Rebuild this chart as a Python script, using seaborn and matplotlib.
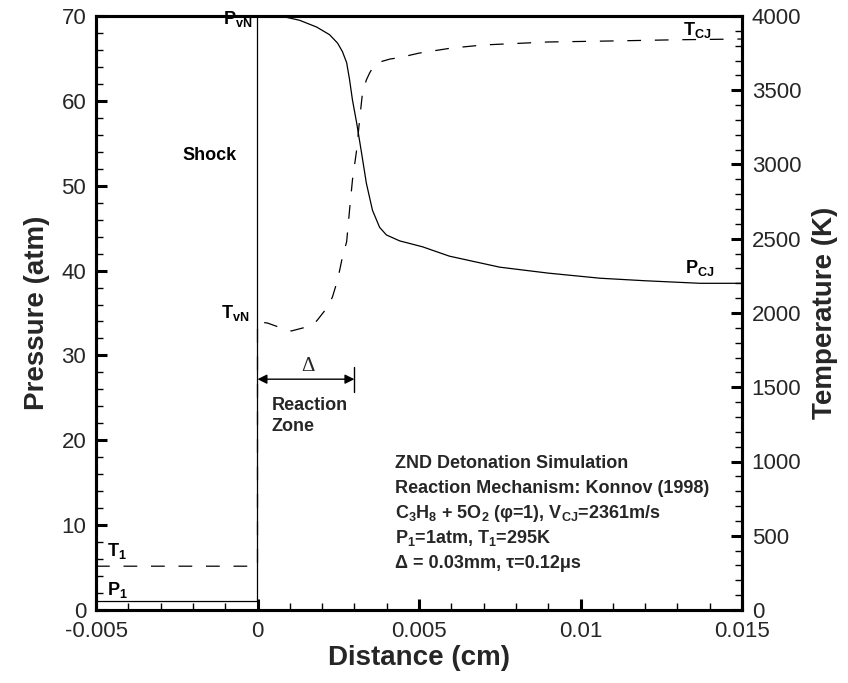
import matplotlib
matplotlib.use("Agg")
import matplotlib.pyplot as plt
from matplotlib.ticker import MultipleLocator
import seaborn as sns

# Pressure profile through the detonation (cm, atm)
p_dist = [-0.005, 0.0, 0.0, 0.00077, 0.0013, 0.00183, 0.00223, 0.00248,
          0.00263, 0.00276, 0.00285, 0.00294, 0.00307, 0.00322, 0.00337,
          0.00356, 0.00378, 0.00399, 0.0044, 0.00511, 0.00594, 0.0075,
          0.0090, 0.0106, 0.0120, 0.0137, 0.0150]
pressure = [1.0, 1.0, 70.0, 69.95, 69.5, 68.7, 67.8, 66.8,
            65.8, 64.5, 62.5, 60.1, 57.4, 53.9, 50.3,
            47.1, 45.1, 44.2, 43.5, 42.8, 41.7, 40.4,
            39.7, 39.1, 38.8, 38.5, 38.5]

# Temperature profile through the detonation (cm, K)
t_dist = [-0.005, 0.0, 0.0, 0.0003, 0.00074, 0.00105, 0.00152, 0.00183,
          0.00217, 0.00232, 0.00248, 0.00263, 0.00276, 0.00285, 0.00294,
          0.00307, 0.00316, 0.00325, 0.00337, 0.00347, 0.00362, 0.00378,
          0.0041, 0.0044, 0.0050, 0.0060, 0.0070, 0.0090, 0.0110, 0.0130,
          0.0150]
temperature = [295, 295, 1940, 1933, 1899, 1879, 1906, 1946,
               2040, 2108, 2222, 2377, 2480, 2694, 2896,
               3098, 3300, 3481, 3569, 3616, 3670, 3690,
               3710, 3720, 3750, 3784, 3805, 3825, 3832, 3840,
               3845]

x_ticks = [-0.005, 0, 0.005, 0.01, 0.015]
x_ticklabels = ["-0.005", "0", "0.005", "0.01", "0.015"]

reaction_zone = 0.003

info_lines = [
    "ZND Detonation Simulation",
    "Reaction Mechanism: Konnov (1998)",
    r"C$_3$H$_8$ + 5O$_2$ (φ=1), V$_{CJ}$=2361m/s",
    r"P$_1$=1atm, T$_1$=295K",
    "Δ = 0.03mm, τ=0.12μs",
]

sns.set_style("ticks")
plt.rcParams["font.family"] = ["Liberation Sans", "DejaVu Sans"]
plt.rcParams["mathtext.fontset"] = "custom"
plt.rcParams["mathtext.rm"] = "Liberation Sans:bold"
plt.rcParams["mathtext.it"] = "Liberation Sans:bold"
plt.rcParams["mathtext.bf"] = "Liberation Sans:bold"

fig = plt.figure(figsize=(8.48, 6.83), dpi=100)
ax = fig.add_axes([96 / 848, 1 - 610 / 683, (742 - 96) / 848, (610 - 16) / 683])
ax2 = ax.twinx()

sns.lineplot(x=p_dist, y=pressure, sort=False, estimator=None, ax=ax,
             color="black", linewidth=0.9)
sns.lineplot(x=t_dist, y=temperature, sort=False, estimator=None, ax=ax2,
             color="black", linewidth=0.9, dashes=False)
ax2.lines[0].set_dashes([11, 11])

ax.set_xlim(-0.005, 0.015)
ax.set_ylim(0, 70)
ax2.set_ylim(0, 4000)

ax.set_xticks(x_ticks)
ax.set_xticklabels(x_ticklabels)
ax.xaxis.set_minor_locator(MultipleLocator(0.001))
ax.yaxis.set_major_locator(MultipleLocator(10))
ax.yaxis.set_minor_locator(MultipleLocator(2))
ax2.yaxis.set_major_locator(MultipleLocator(500))
ax2.yaxis.set_minor_locator(MultipleLocator(100))

for a in (ax, ax2):
    for s in a.spines.values():
        s.set_linewidth(2.2)
        s.set_color("black")
    a.tick_params(which="major", direction="in", length=8, width=2.2,
                  labelsize=16, pad=7, color="black")
    a.tick_params(which="minor", direction="in", length=5, width=1, color="black")
ax.tick_params(axis="x", which="major", pad=8)
ax.tick_params(axis="x", which="both", top=False)
ax2.tick_params(axis="x", which="both", top=False, bottom=False)

ax.set_xlabel("Distance (cm)", fontsize=20, fontweight="bold", labelpad=2)
ax.set_ylabel("Pressure (atm)", fontsize=20, fontweight="bold", labelpad=8)
ax2.set_ylabel("Temperature (K)", fontsize=20, fontweight="bold",
               rotation=90, labelpad=8)

lab = dict(fontsize=13, fontweight="bold", color="black")
ax.text(-0.00062, 69.7, r"P$_{vN}$", ha="center", va="center", **lab)
ax.text(-0.00068, 35.0, r"T$_{vN}$", ha="center", va="center", **lab)
ax.text(-0.00149, 53.6, "Shock", ha="center", va="center", **lab)
ax.text(0.0136, 68.3, r"T$_{CJ}$", ha="center", va="center", **lab)
ax.text(0.0137, 40.3, r"P$_{CJ}$", ha="center", va="center", **lab)
ax.text(-0.00435, 7.0, r"T$_1$", ha="center", va="center", **lab)
ax.text(-0.00435, 2.3, r"P$_1$", ha="center", va="center", **lab)

# reaction-zone length marker
ax.annotate("", xy=(0, 27.2), xytext=(reaction_zone, 27.2),
            arrowprops=dict(arrowstyle="<|-|>", color="black", lw=1,
                            mutation_scale=14, shrinkA=0, shrinkB=0))
ax.plot([reaction_zone, reaction_zone], [25.7, 28.6], color="black", lw=1)
ax.text(reaction_zone / 2 + 0.00005, 28.7, "Δ", fontsize=15,
        family=["Liberation Serif", "DejaVu Serif"], ha="center", va="center")
ax.text(0.00043, 22.9, "Reaction\nZone", fontsize=13, fontweight="bold",
        ha="left", va="center", linespacing=1.3)

for i, line in enumerate(info_lines):
    ax.text(0.00425, 17.3 - i * 2.95, line, fontsize=13, fontweight="bold",
            ha="left", va="center")

fig.savefig("out.png", dpi=100)
